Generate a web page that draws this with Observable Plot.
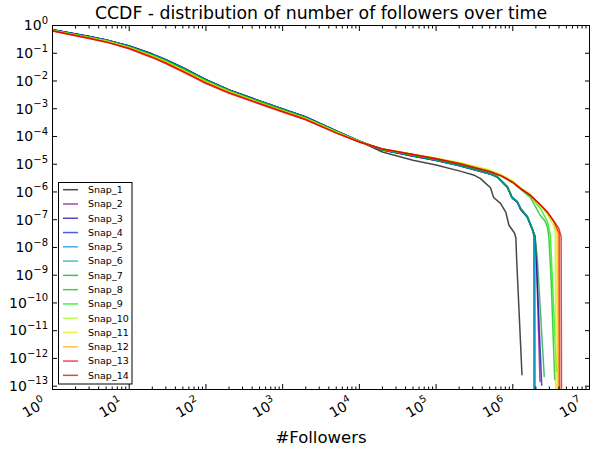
<!DOCTYPE html>
<html><head><meta charset="utf-8">
<script src="https://cdn.jsdelivr.net/npm/d3@7"></script>
<script src="https://cdn.jsdelivr.net/npm/@observablehq/plot@0.6"></script>
<style>body{margin:0;background:#fff;font-family:"DejaVu Sans",sans-serif}</style>
</head><body><div id="chart"></div>
<script>
const snapNames = ["Snap_1","Snap_2","Snap_3","Snap_4","Snap_5","Snap_6","Snap_7","Snap_8","Snap_9","Snap_10","Snap_11","Snap_12","Snap_13","Snap_14"];
// nipy_spectral(i/14)
const snapColors = ["#000000","#7e008f","#1200a8","#0022dd","#008fdd","#00aaa5","#00a03a","#00bb00","#00ec00","#a0ff00","#f3e400","#ffa800","#fa0000","#d30000"];

// shared body grid: log10(#followers)
const bodyLogFollowers = [0, 0.301, 0.477, 0.699, 1, 1.301, 1.477, 1.699, 2, 2.301, 2.699, 3, 3.301, 3.699, 4, 4.301, 4.699, 5, 5.301];

// log10(CCDF) on the body grid, one row per snapshot
const bodyLogCCDF = [
  [-0.15,-0.31,-0.40,-0.52,-0.74,-1.03,-1.23,-1.52,-1.95,-2.32,-2.72,-3.01,-3.30,-3.80,-4.17,-4.56,-4.86,-5.03,-5.24],
  [-0.15,-0.31,-0.40,-0.52,-0.74,-1.03,-1.23,-1.52,-1.95,-2.32,-2.72,-3.01,-3.30,-3.80,-4.17,-4.49,-4.71,-4.87,-5.06],
  [-0.15,-0.31,-0.40,-0.52,-0.74,-1.03,-1.23,-1.52,-1.95,-2.32,-2.72,-3.01,-3.30,-3.80,-4.17,-4.49,-4.70,-4.86,-5.05],
  [-0.15,-0.31,-0.40,-0.52,-0.75,-1.04,-1.24,-1.53,-1.96,-2.33,-2.73,-3.02,-3.31,-3.80,-4.17,-4.48,-4.70,-4.86,-5.05],
  [-0.16,-0.32,-0.41,-0.53,-0.75,-1.04,-1.24,-1.54,-1.96,-2.33,-2.73,-3.02,-3.31,-3.81,-4.17,-4.48,-4.69,-4.85,-5.04],
  [-0.16,-0.32,-0.41,-0.53,-0.76,-1.05,-1.25,-1.54,-1.97,-2.34,-2.74,-3.03,-3.32,-3.81,-4.17,-4.48,-4.69,-4.85,-5.04],
  [-0.16,-0.32,-0.41,-0.54,-0.76,-1.06,-1.26,-1.55,-1.98,-2.34,-2.74,-3.03,-3.32,-3.82,-4.18,-4.47,-4.69,-4.84,-5.03],
  [-0.17,-0.33,-0.42,-0.54,-0.77,-1.07,-1.27,-1.57,-1.99,-2.36,-2.75,-3.04,-3.33,-3.82,-4.18,-4.47,-4.67,-4.82,-4.99],
  [-0.17,-0.33,-0.43,-0.55,-0.78,-1.08,-1.29,-1.58,-2.01,-2.37,-2.76,-3.05,-3.34,-3.83,-4.18,-4.46,-4.66,-4.80,-4.97],
  [-0.18,-0.34,-0.44,-0.56,-0.79,-1.10,-1.30,-1.60,-2.02,-2.38,-2.78,-3.07,-3.35,-3.84,-4.19,-4.45,-4.64,-4.78,-4.94],
  [-0.18,-0.35,-0.44,-0.57,-0.80,-1.11,-1.31,-1.61,-2.03,-2.39,-2.79,-3.08,-3.36,-3.85,-4.19,-4.45,-4.64,-4.78,-4.95],
  [-0.19,-0.35,-0.45,-0.58,-0.81,-1.12,-1.33,-1.63,-2.05,-2.40,-2.80,-3.09,-3.37,-3.86,-4.19,-4.45,-4.65,-4.79,-4.96],
  [-0.19,-0.36,-0.46,-0.59,-0.83,-1.14,-1.35,-1.65,-2.07,-2.42,-2.81,-3.10,-3.39,-3.87,-4.20,-4.45,-4.65,-4.80,-4.97],
  [-0.20,-0.37,-0.47,-0.60,-0.84,-1.16,-1.37,-1.67,-2.09,-2.44,-2.83,-3.12,-3.40,-3.88,-4.20,-4.45,-4.65,-4.80,-4.98]
];

// tails: log10(#followers) and log10(CCDF), one row per snapshot
const tailLogFollowers = [
  [5.50,5.58,5.65,5.71,5.75,5.84,5.91,5.95,6.02,6.04,6.05,6.07,6.12],
  [5.699,5.80,5.93,5.99,6.06,6.10,6.19,6.26,6.29,6.31,6.355],
  [5.699,5.80,5.93,5.99,6.06,6.10,6.19,6.26,6.29,6.31,6.377],
  [5.699,5.80,5.93,5.99,6.06,6.10,6.19,6.26,6.275,6.277],
  [5.699,5.80,5.93,5.99,6.06,6.10,6.19,6.26,6.283,6.285],
  [5.699,5.80,5.93,5.99,6.06,6.10,6.19,6.26,6.29,6.292],
  [5.699,5.80,5.93,5.99,6.06,6.10,6.19,6.26,6.29,6.32,6.41],
  [5.699,5.85,6.0,6.10,6.23,6.36,6.42,6.45,6.47,6.50,6.547],
  [5.699,5.85,6.0,6.10,6.23,6.36,6.45,6.49,6.52,6.57],
  [5.699,5.85,6.0,6.10,6.23,6.36,6.45,6.53,6.555,6.56],
  [5.699,5.85,6.0,6.10,6.23,6.36,6.45,6.54,6.575,6.58],
  [5.699,5.85,6.0,6.10,6.23,6.36,6.45,6.54,6.59,6.595],
  [5.699,5.85,6.0,6.10,6.23,6.36,6.45,6.54,6.605,6.61],
  [5.699,5.85,6.0,6.10,6.23,6.36,6.45,6.54,6.60,6.63,6.635]
];
const tailLogCCDF = [
  [-5.40,-5.52,-5.70,-5.85,-6.20,-6.41,-6.74,-7.20,-7.47,-7.65,-8.4,-9.6,-12.59],
  [-5.35,-5.47,-5.84,-6.22,-6.38,-6.62,-6.92,-7.40,-7.62,-8.6,-12.83],
  [-5.34,-5.46,-5.83,-6.20,-6.37,-6.62,-6.90,-7.38,-7.62,-8.6,-12.97],
  [-5.34,-5.46,-5.82,-6.20,-6.36,-6.60,-6.90,-7.38,-7.60,-13.5],
  [-5.34,-5.46,-5.82,-6.19,-6.36,-6.60,-6.89,-7.37,-7.60,-13.5],
  [-5.34,-5.45,-5.81,-6.19,-6.35,-6.59,-6.89,-7.37,-7.60,-13.5],
  [-5.33,-5.45,-5.80,-6.18,-6.35,-6.58,-6.88,-7.36,-7.58,-8.4,-12.65],
  [-5.26,-5.43,-5.66,-5.90,-6.20,-6.85,-7.05,-7.25,-7.61,-9.17,-12.77],
  [-5.24,-5.41,-5.64,-5.87,-6.15,-6.60,-7.05,-7.55,-9.4,-12.47],
  [-5.21,-5.38,-5.61,-5.84,-6.10,-6.50,-6.80,-7.20,-7.45,-13.5],
  [-5.23,-5.40,-5.63,-5.85,-6.10,-6.48,-6.76,-7.14,-7.45,-13.5],
  [-5.25,-5.41,-5.64,-5.86,-6.11,-6.47,-6.74,-7.10,-7.48,-13.5],
  [-5.26,-5.42,-5.65,-5.87,-6.12,-6.46,-6.72,-7.08,-7.50,-13.5],
  [-5.27,-5.42,-5.66,-5.88,-6.12,-6.47,-6.72,-7.07,-7.31,-7.61,-13.5]
];

const xMajor = [1e0,1e1,1e2,1e3,1e4,1e5,1e6,1e7];
const yMajor = d3.range(0, -14, -1).map(k => 10 ** k);
const xMinor = [];
for (let k = 0; k < 7; k++) for (let m = 2; m <= 9; m++) xMinor.push(m * 10 ** k);

const table = [];
snapNames.forEach((name, i) => {
  bodyLogFollowers.forEach((lx, j) => table.push({snap: name, followers: 10 ** lx, ccdf: 10 ** bodyLogCCDF[i][j]}));
  tailLogFollowers[i].forEach((lx, j) => table.push({snap: name, followers: 10 ** lx, ccdf: 10 ** tailLogCCDF[i][j]}));
});

const blank = () => "";
const lineAlpha = 0.72;
const lineWidth = 1.5;

const plot = Plot.plot({
  width: 596, height: 449,
  marginLeft: 52, marginRight: 7, marginTop: 25, marginBottom: 60,
  style: {fontFamily: "DejaVu Sans", background: "white", color: "black"},
  x: {type: "log", domain: [1, 1e7]},
  y: {type: "log", domain: [10 ** -13.12, 1]},
  color: {domain: snapNames, range: snapColors},
  marks: [
    Plot.line(table, {x: "followers", y: "ccdf", z: "snap", stroke: "snap", strokeWidth: lineWidth, strokeOpacity: lineAlpha, clip: true}),
    Plot.frame({stroke: "black", strokeWidth: 1}),
    Plot.axisX(xMajor, {anchor: "bottom", tickSize: -5, tickFormat: blank, label: null}),
    Plot.axisX(xMinor, {anchor: "bottom", tickSize: -2.5, tickFormat: blank, label: null}),
    Plot.axisX(xMajor, {anchor: "top", tickSize: -5, tickFormat: blank, label: null}),
    Plot.axisX(xMinor, {anchor: "top", tickSize: -2.5, tickFormat: blank, label: null}),
    Plot.axisY(yMajor, {anchor: "left", tickSize: -5, tickFormat: blank, label: null}),
    Plot.axisY(yMajor, {anchor: "right", tickSize: -5, tickFormat: blank, label: null}),
    Plot.text(["CCDF - distribution of number of followers over time"], {frameAnchor: "top", lineAnchor: "middle", dy: -12, fontSize: 17.3, fill: "black"}),
    Plot.text(["#Followers"], {frameAnchor: "bottom", lineAnchor: "middle", dy: 48, fontSize: 16.5, fill: "black"})
  ]
});

document.getElementById("chart").appendChild(plot);

const svg = d3.select(plot);
const xs = plot.scale("x"), ys = plot.scale("y");
const sup = k => (k < 0 ? "\u2212" + (-k) : String(k));

// mathtext-like tick labels positioned with the plot's own scales
const tl = svg.append("g").attr("font-family", "DejaVu Sans").attr("fill", "black");
yMajor.forEach(v => {
  const k = Math.round(Math.log10(v));
  const t = tl.append("text").attr("text-anchor", "end").attr("font-size", 14)
    .attr("x", 48).attr("y", ys.apply(v) + 5.3);
  t.append("tspan").text("10");
  t.append("tspan").attr("dy", -6.5).attr("font-size", 10).text(sup(k));
});
xMajor.forEach(v => {
  const k = Math.round(Math.log10(v));
  const t = tl.append("text").attr("text-anchor", "end").attr("font-size", 14)
    .attr("transform", `translate(${xs.apply(v) - 5},${406}) rotate(-30)`);
  t.append("tspan").text("10");
  t.append("tspan").attr("dy", -6.5).attr("font-size", 10).text(sup(k));
});

// legend
const lg = svg.append("g").attr("font-family", "DejaVu Sans").attr("font-size", 9.5);
lg.append("rect").attr("x", 58.5).attr("y", 182.5).attr("width", 73.5).attr("height", 201.5).attr("fill", "white").attr("stroke", "black").attr("stroke-width", 1);
snapNames.forEach((name, i) => {
  const y = 189.7 + i * 14.28;
  lg.append("line").attr("x1", 63).attr("x2", 78).attr("y1", y).attr("y2", y).attr("stroke", snapColors[i]).attr("stroke-opacity", lineAlpha).attr("stroke-width", lineWidth);
  lg.append("text").attr("x", 88).attr("y", y).attr("dy", "0.35em").attr("text-anchor", "start").attr("fill", "black").text(name);
});
</script>
</body></html>
